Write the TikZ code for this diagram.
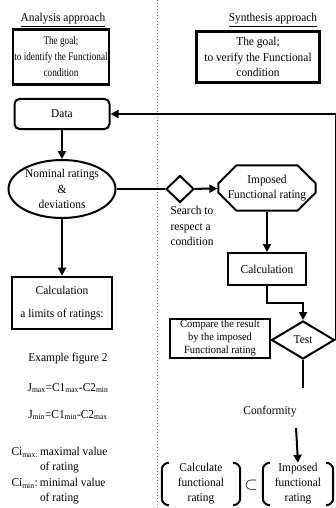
\documentclass[tikz,border=0pt]{standalone}
\usepackage{fontspec}
\setmainfont{Liberation Serif}[FakeStretch=0.95]
\newfontfamily\narrowserif{Liberation Serif}[FakeStretch=0.8]
\usetikzlibrary{shapes.geometric,shapes.misc,arrows.meta}
\begin{document}
\begin{tikzpicture}[x=1pt, y=-1pt,
    >={Triangle[length=8pt,width=8pt]},
    every node/.style={font=\fontsize{12}{15.5}\selectfont, align=center},
    thickbox/.style={draw, line width=2.2pt, inner sep=1pt},
    flow/.style={line width=2pt},
    bracket/.style={line width=2pt, rounded corners=7pt}]
    \useasboundingbox (0,0) rectangle (336,508);
    \draw[gray, dotted, line width=1pt] (157,0) -- (157,508);
    \node (anahead) at (63,20) {\underline{Analysis approach}};
    \node (synhead) at (273,20) {\underline{Synthesis approach}};
    \node[thickbox, minimum width=96, minimum height=55, font=\narrowserif\fontsize{11.5}{16}\selectfont] (goalA) at (61,57) {The goal;\\to identify the Functional\\condition};
    \node[thickbox, minimum width=123, minimum height=51] (goalS) at (258,57) {The goal;\\to verify the Functional\\condition};
    \node[draw, flow, rounded corners=5pt, minimum width=95, minimum height=30] (data) at (62,114) {Data};
    \node[draw, flow, ellipse, minimum width=107, minimum height=58, inner sep=0] (nominal) at (62,189) {Nominal ratings\\\&\\deviations};
    \node[draw, flow, diamond, minimum width=28, minimum height=27, inner sep=0] (search) at (180,189) {};
    \node[anchor=north west, align=left] (searchlbl) at (167,203) {Search to\\respect a\\condition};
    \node[draw, flow, chamfered rectangle, chamfered rectangle xsep=9pt, chamfered rectangle ysep=9pt, minimum width=95, minimum height=40, inner sep=0.5pt] (imposed) at (267,188) {Imposed\\Functional rating};
    \node[draw, flow, minimum width=78, minimum height=32] (calcS) at (267,269) {Calculation};
    \node[draw, flow, diamond, minimum width=63, minimum height=38, inner sep=0] (test) at (303,340) {Test};
    \node[draw, flow, minimum width=100, minimum height=39, inner sep=1pt, font=\fontsize{11}{13}\selectfont] (compare) at (220,338) {Compare the result\\by the imposed\\Functional rating};
    \node[draw, line width=2.6pt, minimum width=100, minimum height=52] (calcA) at (62,303) {Calculation\\[7pt]a limits of ratings:};
    \node (example) at (68,359) {Example figure 2};
    \node (jmax) at (68,388) {J\textsubscript{max}=C1\textsubscript{max}-C2\textsubscript{min}};
    \node (jmin) at (68,415) {J\textsubscript{min}=C1\textsubscript{min}-C2\textsubscript{max}};
    \node[anchor=north west, align=left] (cidef) at (8,441) {\begin{tabular}{@{}l@{\,}l}Ci\textsubscript{max:} & maximal value\\ & of rating\\ Ci\textsubscript{min}: & minimal value\\ & of rating\end{tabular}};
    \node (conform) at (270,412) {Conformity};
    \node[minimum width=78, minimum height=42, inner sep=0, font=\fontsize{12}{15}\selectfont] (calcF) at (201,484) {Calculate\\functional\\rating};
    \node[font=\fontsize{17}{17}\selectfont, inner sep=0] (subset) at (251,485) {$\subset$};
    \node[minimum width=70, minimum height=42, inner sep=0, font=\fontsize{12}{15}\selectfont] (impF) at (298,484) {Imposed\\functional\\rating};
    \draw[bracket] ([xshift=6pt]calcF.north west) -- (calcF.north west) -- (calcF.south west) -- ([xshift=6pt]calcF.south west);
    \draw[bracket] ([xshift=-6pt]calcF.north east) -- (calcF.north east) -- (calcF.south east) -- ([xshift=-6pt]calcF.south east);
    \draw[bracket] ([xshift=6pt]impF.north west) -- (impF.north west) -- (impF.south west) -- ([xshift=6pt]impF.south west);
    \draw[bracket] ([xshift=-6pt]impF.north east) -- (impF.north east) -- (impF.south east) -- ([xshift=-6pt]impF.south east);
    \coordinate (testout) at (303,388);
    \coordinate (confout) at (296,428);
    \draw[flow, ->] (data) -- (nominal);
    \draw[flow] (nominal) -- (search);
    \draw[flow, ->] (search) -- (imposed);
    \draw[flow, ->] (imposed) -- (calcS);
    \draw[flow, ->] (calcS.south) -- ++(0,17) -| (test.north);
    \draw[flow, ->] (test.east) |- (data.east);
    \draw[flow, ->] (nominal) -- (calcA);
    \draw[flow] (test.south) -- (testout);
    \draw[flow, ->] (confout) -- (impF.north);
\end{tikzpicture}
\end{document}
